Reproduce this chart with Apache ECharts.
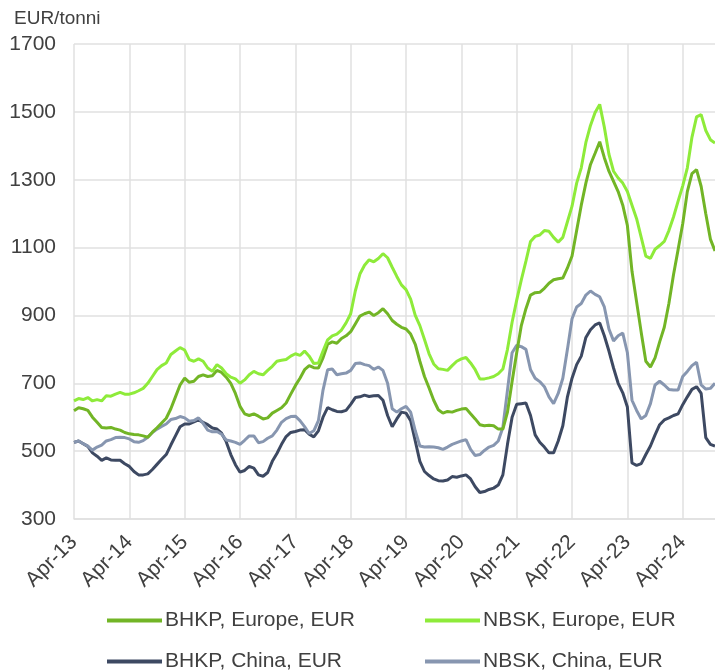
<!DOCTYPE html>
<html>
<head>
<meta charset="utf-8">
<script src="https://cdn.jsdelivr.net/npm/echarts@6/dist/echarts.min.js"></script>
<style>
  html, body { margin: 0; padding: 0; background: #fff; }
  #chart { width: 715px; height: 671px; }
</style>
</head>
<body>
<div id="chart"></div>
<script>
// kuukaudet Apr-13 ... Nov-24
var monthNames = ['Jan','Feb','Mar','Apr','May','Jun','Jul','Aug','Sep','Oct','Nov','Dec'];
var months = [];
for (var y = 13, m = 3; !(y === 24 && m === 11); m++) {
  if (m === 12) { m = 0; y++; }
  months.push(monthNames[m] + '-' + y);
}

var bhkpEurope = [
  619,628,625,620,600,585,570,568,570,565,562,555,
  551,549,548,545,541,556,569,583,597,625,660,695,
  715,703,706,720,725,720,722,738,732,718,700,670,
  632,610,605,610,603,595,598,612,620,628,642,668,
  693,715,740,752,746,745,775,815,822,818,832,840,
  852,875,898,905,910,900,908,920,905,885,874,865,
  860,845,815,765,720,686,650,622,612,617,615,620,
  624,626,610,595,578,575,576,575,565,565,615,705,
  790,870,920,960,967,968,980,995,1005,1008,1010,1040,
  1075,1150,1225,1290,1345,1378,1412,1365,1325,1295,1265,1225,
  1165,1030,940,850,765,748,775,822,865,935,1020,1094,
  1170,1265,1318,1330,1280,1200,1125,1090
];
var nbskEurope = [
  648,655,652,658,648,652,648,663,662,668,673,668,
  668,672,678,685,700,720,740,752,760,785,795,805,
  798,770,765,772,765,745,735,755,745,728,718,713,
  700,710,725,735,728,725,738,750,765,768,770,780,
  787,782,795,780,758,760,795,828,840,845,857,878,
  905,972,1022,1048,1064,1058,1068,1082,1070,1042,1015,990,
  976,948,900,870,829,787,757,743,741,738,752,765,
  772,776,760,740,713,713,716,720,728,742,800,880,
  945,1005,1060,1118,1133,1137,1150,1148,1130,1116,1130,1176,
  1222,1290,1335,1410,1460,1498,1522,1455,1375,1325,1305,1290,
  1265,1225,1185,1130,1075,1068,1095,1106,1118,1150,1190,1237,
  1282,1335,1425,1485,1492,1445,1418,1408
];
var bhkpChina = [
  526,530,522,514,495,485,473,480,474,473,473,463,
  455,440,430,430,433,446,461,476,490,518,545,572,
  580,580,586,592,585,578,568,565,553,528,490,460,
  438,443,455,450,430,426,437,470,493,520,543,555,
  558,562,563,550,542,560,600,628,622,617,616,620,
  638,658,660,665,661,663,664,650,605,572,595,615,
  612,590,530,470,440,428,418,413,412,415,425,423,
  427,430,418,395,378,381,387,391,400,430,520,600,
  638,640,642,605,548,526,512,495,495,530,575,660,
  715,755,780,835,858,872,878,840,795,745,700,672,
  630,465,458,463,490,515,548,578,592,598,605,610,
  637,660,682,690,670,540,520,515
];
var nbskChina = [
  526,530,522,515,503,512,518,530,534,540,541,540,
  536,528,526,531,541,555,565,573,580,593,596,602,
  598,588,590,598,582,562,557,558,550,533,530,526,
  520,532,545,545,525,528,538,545,562,585,596,602,
  603,590,572,552,560,590,680,740,742,725,728,730,
  738,758,760,755,752,741,748,738,700,625,615,625,
  632,615,560,515,512,513,512,510,505,512,520,525,
  530,534,505,487,490,502,512,517,530,570,680,790,
  812,808,800,740,715,705,690,660,640,670,715,800,
  890,925,935,960,972,962,955,925,860,825,840,848,
  790,650,620,595,605,640,695,706,695,682,680,680,
  720,735,752,762,695,683,685,700
];

var seriesNames = ['BHKP, Europe, EUR', 'NBSK, Europe, EUR', 'BHKP, China, EUR', 'NBSK, China, EUR'];
var seriesColors = ['#72b526', '#8eeb3a', '#3d4962', '#8796b0'];
var seriesData = [bhkpEurope, nbskEurope, bhkpChina, nbskChina];

var font = '"Liberation Sans", Arial, sans-serif';
var textColor = '#404040';
var gridColor = '#e0e0e0';

var chart = echarts.init(document.getElementById('chart'));

function legendAt(name, left, top) {
  return {
    data: [name],
    left: left,
    top: top,
    icon: 'rect',
    itemWidth: 55,
    itemHeight: 4,
    itemGap: 0,
    padding: 0,
    selectedMode: false,
    textStyle: { fontFamily: font, fontSize: 21, color: textColor, padding: [0, 0, 0, -2] }
  };
}

chart.setOption({
  animation: false,
  title: {
    text: 'EUR/tonni',
    left: 9,
    top: 4,
    textStyle: { fontFamily: font, fontSize: 19, fontWeight: 'normal', color: textColor }
  },
  legend: [
    legendAt(seriesNames[0], 107, 610),
    legendAt(seriesNames[1], 425, 610),
    legendAt(seriesNames[2], 107, 651),
    legendAt(seriesNames[3], 425, 651)
  ],
  grid: { left: 74, right: 0, top: 44, bottom: 152, containLabel: false },
  xAxis: {
    type: 'category',
    data: months,
    boundaryGap: false,
    axisLine: { lineStyle: { color: gridColor, width: 1.5 } },
    axisTick: { show: false },
    axisLabel: {
      interval: 11,
      rotate: 45,
      margin: 20,
      fontFamily: font,
      fontSize: 21,
      color: textColor
    },
    splitLine: { show: true, interval: 11, lineStyle: { color: gridColor, width: 1.5 } }
  },
  yAxis: {
    type: 'value',
    min: 300,
    max: 1700,
    interval: 200,
    axisLine: { show: false },
    axisTick: { show: false },
    axisLabel: {
      margin: 18,
      fontFamily: font,
      fontSize: 21,
      color: textColor,
      formatter: function (v) { return String(v); }
    },
    splitLine: { lineStyle: { color: gridColor, width: 1.5 } }
  },
  series: seriesNames.map(function (name, i) {
    return {
      name: name,
      type: 'line',
      data: seriesData[i],
      showSymbol: false,
      symbol: 'none',
      color: seriesColors[i],
      lineStyle: { width: 3, color: seriesColors[i] },
      z: i === 1 ? 3 : (i === 0 ? 2 : 1)
    };
  })
});
</script>
</body>
</html>
